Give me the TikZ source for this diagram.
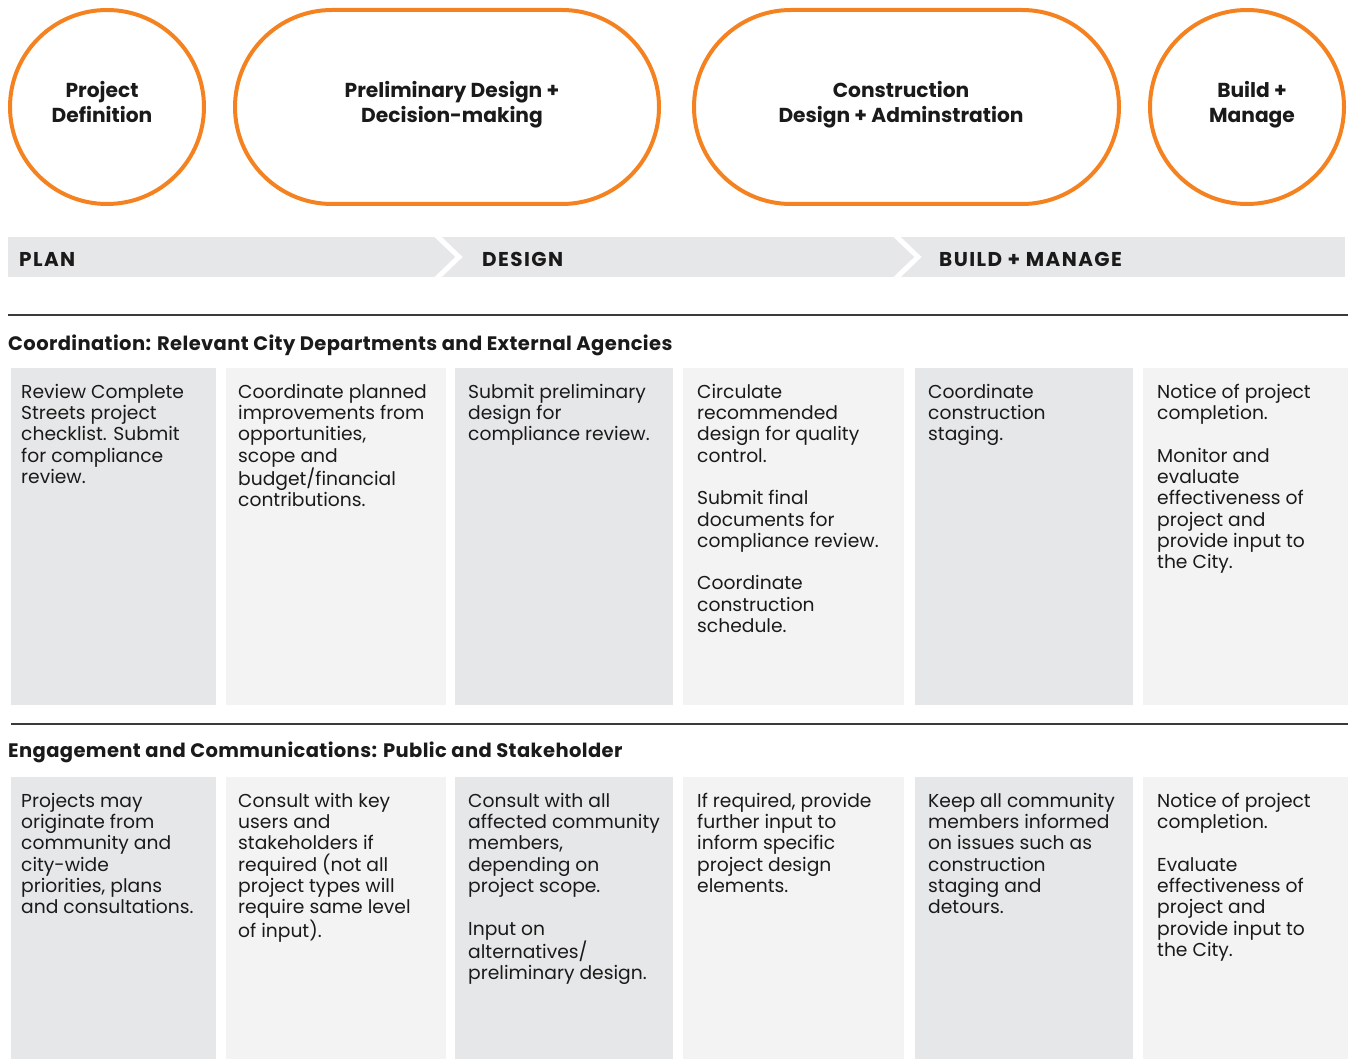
\documentclass[tikz,border=0pt]{standalone}
\usepackage{fontspec}
\setmainfont{Poppins}
\usetikzlibrary{shapes.misc}
\definecolor{orng}{HTML}{F58220}
\definecolor{cdark}{HTML}{E6E7E8}
\definecolor{clight}{HTML}{F3F3F3}
\definecolor{txt}{HTML}{1A1A1A}
\definecolor{rule}{HTML}{3A3A3A}
\newcommand{\gap}{\\[21.3pt]}
\newcommand{\fl}{\rule{0pt}{15pt}}
\newcommand{\fb}{\rule{0pt}{16pt}}
\tikzset{
  phase/.style={draw=orng, line width=4pt, inner sep=0pt},
  ring/.style={phase, circle, minimum size=194pt},
  pill/.style={phase, rounded rectangle, minimum height=194pt},
  phaselbl/.style={anchor=north, inner sep=0pt, align=center, text=txt,
     font=\fontsize{20.2}{25}\selectfont\bfseries},
  bandlbl/.style={anchor=base west, inner sep=0pt, text=txt,
     font=\fontsize{20}{22}\selectfont\bfseries\addfontfeature{LetterSpace=7}},
  heading/.style={anchor=base west, inner sep=0pt, text=txt,
     font=\fontsize{19.5}{22}\selectfont\bfseries\addfontfeature{LetterSpace=2}},
  body/.style={anchor=north west, inner sep=0pt, align=left, text=txt,
     font=\fontsize{18.7}{21.3}\selectfont},
  darkcol/.style={fill=cdark, draw=none},
  lightcol/.style={fill=clight, draw=none},
  sep/.style={draw=rule, line width=1.3pt},
  chev/.style={draw=white, line width=5pt, line join=miter},
}
\begin{document}
\begin{tikzpicture}[x=1pt,y=-1pt]
\useasboundingbox (0,0) rectangle (1348,1059);

% phase shapes
\node[ring] (p1) at (107,107) {};
\node[pill, minimum width=424pt] (p2) at (447,107) {};
\node[pill, minimum width=425pt] (p3) at (906.5,107) {};
\node[ring] (p4) at (1247,107) {};
\node[phaselbl] (t1) at (102,81) {\fb Project\\Definition};
\node[phaselbl] (t2) at (452,81) {\fb Preliminary Design +\\Decision-making};
\node[phaselbl] (t3) at (901,81) {\fb Construction\\Design + Adminstration};
\node[phaselbl] (t4) at (1252,81) {\fb Build +\\Manage};

% band
\begin{scope}
\clip (8,237) rectangle (1345,277);
\fill[cdark] (8,237) rectangle (1345,277);
\coordinate (a1) at (436,235);
\coordinate (a2) at (459,257);
\coordinate (a3) at (436,279);
\coordinate (b1) at (895,235);
\coordinate (b2) at (918,257);
\coordinate (b3) at (895,279);
\draw[chev] (a1) -- (a2) -- (a3);
\draw[chev] (b1) -- (b2) -- (b3);
\end{scope}
\node[bandlbl] (plan) at (19,266) {PLAN};
\node[bandlbl] (design) at (482,266) {DESIGN};
\node[bandlbl] (build) at (939,266) {BUILD + MANAGE};

% rules
\coordinate (r1a) at (8,315); \coordinate (r1b) at (1348,315);
\coordinate (r2a) at (11,724); \coordinate (r2b) at (1348,724);
\draw[sep] (r1a) -- (r1b);
\draw[sep] (r2a) -- (r2b);

\node[heading] (h1) at (8,350) {Coordination: Relevant City Departments and External Agencies};
\node[heading] (h2) at (8,757) {Engagement and Communications: Public and Stakeholder};

% columns section 1
\fill[darkcol] (11,368) rectangle (216,705);
\fill[lightcol] (226,368) rectangle (446,705);
\fill[darkcol] (455,368) rectangle (673,705);
\fill[lightcol] (683,368) rectangle (904,705);
\fill[darkcol] (915,368) rectangle (1133,705);
\fill[lightcol] (1143,368) rectangle (1348,705);
% columns section 2
\fill[darkcol] (11,777) rectangle (216,1060);
\fill[lightcol] (226,777) rectangle (446,1060);
\fill[darkcol] (455,777) rectangle (673,1060);
\fill[lightcol] (683,777) rectangle (904,1060);
\fill[darkcol] (915,777) rectangle (1133,1060);
\fill[lightcol] (1143,777) rectangle (1348,1060);

% text section 1
\node[body] (c11) at (21,383) {\fl Review Complete\\Streets project\\checklist. Submit\\for compliance\\review.};
\node[body] (c12) at (238,383) {\fl Coordinate planned\\improvements from\\opportunities,\\scope and\\budget/financial\\contributions.};
\node[body] (c13) at (468,383) {\fl Submit preliminary\\design for\\compliance review.};
\node[body] (c14) at (697,383) {\fl Circulate\\recommended\\design for quality\\control.\gap Submit final\\documents for\\compliance review.\gap Coordinate\\construction\\schedule.};
\node[body] (c15) at (928,383) {\fl Coordinate\\construction\\staging.};
\node[body] (c16) at (1157,383) {\fl Notice of project\\completion.\gap Monitor and\\evaluate\\effectiveness of\\project and\\provide input to\\the City.};

% text section 2
\node[body] (c21) at (21,792) {\fl Projects may\\originate from\\community and\\city-wide\\priorities, plans\\and consultations.};
\node[body] (c22) at (238,792) {\fl Consult with key\\users and\\stakeholders if\\required (not all\\project types will\\require same level\\of input).};
\node[body] (c23) at (468,792) {\fl Consult with all\\affected community\\members,\\depending on\\project scope.\gap Input on\\alternatives/\\preliminary design.};
\node[body] (c24) at (697,792) {\fl If required, provide\\further input to\\inform specific\\project design\\elements.};
\node[body] (c25) at (928,792) {\fl Keep all community\\members informed\\on issues such as\\construction\\staging and\\detours.};
\node[body] (c26) at (1157,792) {\fl Notice of project\\completion.\gap Evaluate\\effectiveness of\\project and\\provide input to\\the City.};
\end{tikzpicture}
\end{document}
